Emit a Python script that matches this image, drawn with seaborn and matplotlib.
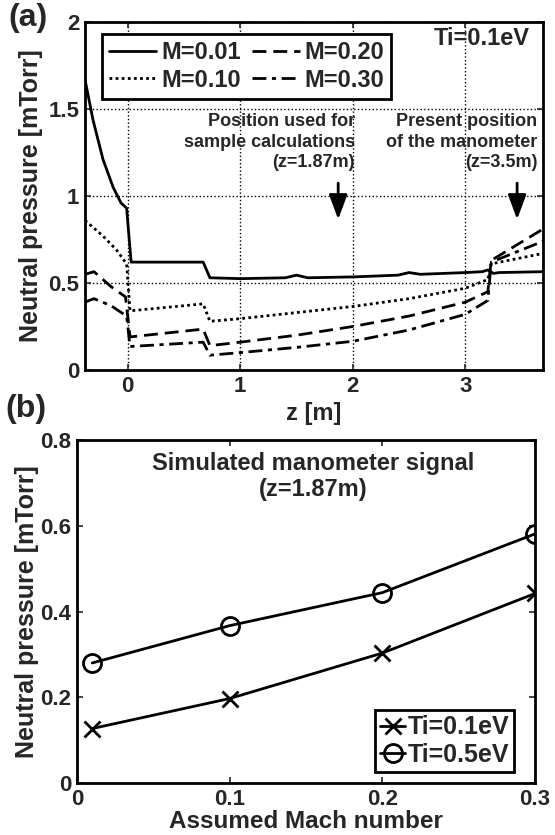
import numpy as np
import pandas as pd
import matplotlib
matplotlib.use('Agg')
import matplotlib.pyplot as plt
import seaborn as sns

# panel (a): neutral pressure along z for several Mach numbers (Ti=0.1eV)
z_m001 = [-0.38, -0.31, -0.22, -0.13, -0.06, -0.01, 0.03, 0.67, 0.73, 1.0, 1.4, 1.5, 1.6,
          2.0, 2.4, 2.5, 2.6, 3.0, 3.15, 3.2, 3.25, 3.3, 3.69]
p_m001 = [1.67, 1.44, 1.21, 1.05, 0.96, 0.93, 0.62, 0.62, 0.53, 0.525, 0.53, 0.545, 0.53,
          0.535, 0.545, 0.56, 0.55, 0.56, 0.565, 0.575, 0.555, 0.56, 0.565]
z_m010 = [-0.38, -0.22, -0.10, -0.01, 0.02, 0.67, 0.73, 1.0, 1.5, 2.0, 2.5, 3.0, 3.2, 3.23, 3.69]
p_m010 = [0.86, 0.77, 0.69, 0.61, 0.34, 0.38, 0.28, 0.295, 0.33, 0.365, 0.41, 0.47, 0.52, 0.61, 0.67]
z_m020 = [-0.38, -0.30, -0.15, -0.02, 0.02, 0.67, 0.73, 1.0, 1.5, 2.0, 2.5, 3.0, 3.2, 3.23, 3.69]
p_m020 = [0.55, 0.565, 0.48, 0.42, 0.19, 0.235, 0.14, 0.16, 0.20, 0.25, 0.31, 0.39, 0.45, 0.63, 0.81]
z_m030 = [-0.38, -0.30, -0.15, -0.01, 0.02, 0.67, 0.73, 1.0, 1.5, 2.0, 2.5, 3.0, 3.2, 3.23, 3.69]
p_m030 = [0.39, 0.41, 0.37, 0.31, 0.135, 0.16, 0.085, 0.10, 0.13, 0.165, 0.23, 0.32, 0.40, 0.62, 0.74]

# panel (b): simulated manometer signal at z=1.87m
mach = [0.01, 0.1, 0.2, 0.3]
p_ti01 = [0.127, 0.197, 0.303, 0.442]
p_ti05 = [0.28, 0.367, 0.444, 0.581]

sns.set_style('ticks')
plt.rcParams['font.family'] = ['Liberation Sans', 'DejaVu Sans']
plt.rcParams['font.weight'] = 'bold'
plt.rcParams['axes.labelweight'] = 'bold'
plt.rcParams['axes.linewidth'] = 2
plt.rcParams['axes.edgecolor'] = 'black'

fig = plt.figure(figsize=(5.55, 8.35), dpi=100)
ax1 = fig.add_axes([85/555, 1-370/835, 458/555, 348/835])
ax2 = fig.add_axes([77/555, 1-783/835, 458/555, 343/835])

#top panel
series = [(z_m001, p_m001, 'M=0.01', '-'),
          (z_m010, p_m010, 'M=0.10', (0, (1, 1.2))),
          (z_m020, p_m020, 'M=0.20', (0, (5, 2.5))),
          (z_m030, p_m030, 'M=0.30', (0, (5, 2, 1.5, 2)))]
for z, p, lab, ls in series:
    sns.lineplot(x=z, y=p, ax=ax1, color='black', lw=2, linestyle=ls, label=lab)

ax1.set_xlim(-0.38, 3.69)
ax1.set_ylim(0, 2)
ax1.set_xticks([0, 1, 2, 3])
ax1.set_yticks([0, 0.5, 1, 1.5, 2])
ax1.set_yticklabels(['0', '0.5', '1', '1.5', '2'])
ax1.grid(True, linestyle=':', color='black', lw=1)
ax1.tick_params(direction='in', top=True, right=True, labelsize=16, pad=4, width=1.2, length=4)
ax1.set_xlabel('z [m]', fontsize=17, labelpad=4)
ax1.set_ylabel('Neutral pressure [mTorr]', fontsize=18, labelpad=4)
leg = ax1.legend(ncol=2, loc='upper left', bbox_to_anchor=(0.037, 0.966), fontsize=17,
                 frameon=True, fancybox=False, edgecolor='black', handlelength=2.0,
                 columnspacing=0.5, handletextpad=0.2, borderpad=0.3, labelspacing=0.2,
                 borderaxespad=0)
leg.get_frame().set_linewidth(2)
leg.get_frame().set_alpha(1)
ax1.text(0.972, 0.953, 'Ti=0.1eV', transform=ax1.transAxes, ha='right', va='center',
         fontsize=17, weight='bold')

ax1.text(2.02, 1.31, 'Position used for\nsample calculations\n(z=1.87m)', ha='right',
         va='center', fontsize=13, weight='bold', linespacing=1.25)
ax1.text(3.64, 1.31, 'Present position\nof the manometer\n(z=3.5m)', ha='right',
         va='center', fontsize=13, weight='bold', linespacing=1.25)
arrow = dict(arrowstyle='-|>,head_length=0.75,head_width=0.28', color='black', lw=2,
             mutation_scale=20)
ax1.annotate('', xy=(1.87, 0.85), xytext=(1.87, 1.09), arrowprops=arrow)
ax1.annotate('', xy=(3.46, 0.85), xytext=(3.46, 1.09), arrowprops=arrow)

#bottom panel
sns.lineplot(x=mach, y=p_ti01, ax=ax2, color='black', lw=2, marker='x', markersize=11,
             markeredgecolor='black', markeredgewidth=2, label='Ti=0.1eV')
sns.lineplot(x=mach, y=p_ti05, ax=ax2, color='black', lw=2, marker='o', markersize=13,
             markerfacecolor='none', markeredgecolor='black', markeredgewidth=2,
             label='Ti=0.5eV')
ax2.set_xlim(0, 0.3)
ax2.set_ylim(0, 0.8)
ax2.set_xticks([0, 0.1, 0.2, 0.3])
ax2.set_xticklabels(['0', '0.1', '0.2', '0.3'])
ax2.set_yticks([0, 0.2, 0.4, 0.6, 0.8])
ax2.set_yticklabels(['0', '0.2', '0.4', '0.6', '0.8'])
ax2.tick_params(direction='in', top=True, right=True, labelsize=16, pad=4, width=1.2, length=4)
ax2.set_xlabel('Assumed Mach number', fontsize=17.5, labelpad=0)
ax2.set_ylabel('Neutral pressure [mTorr]', fontsize=18, labelpad=1)
ax2.text(0.515, 0.965, 'Simulated manometer signal\n(z=1.87m)', transform=ax2.transAxes,
         ha='center', va='top', fontsize=17, weight='bold', linespacing=1.15)
leg2 = ax2.legend(loc='lower right', bbox_to_anchor=(0.955, 0.032), fontsize=18,
                  frameon=True, fancybox=False, edgecolor='black', handlelength=1.0,
                  handletextpad=0.1, borderpad=0.2, labelspacing=0.15, borderaxespad=0)
leg2.get_frame().set_linewidth(2)
leg2.get_frame().set_alpha(1)

fig.text(0.015, 0.997, '(a)', fontsize=23, weight='bold', va='top')
fig.text(0.01, 0.528, '(b)', fontsize=23, weight='bold', va='top')

plt.savefig('out.png', dpi=100)
